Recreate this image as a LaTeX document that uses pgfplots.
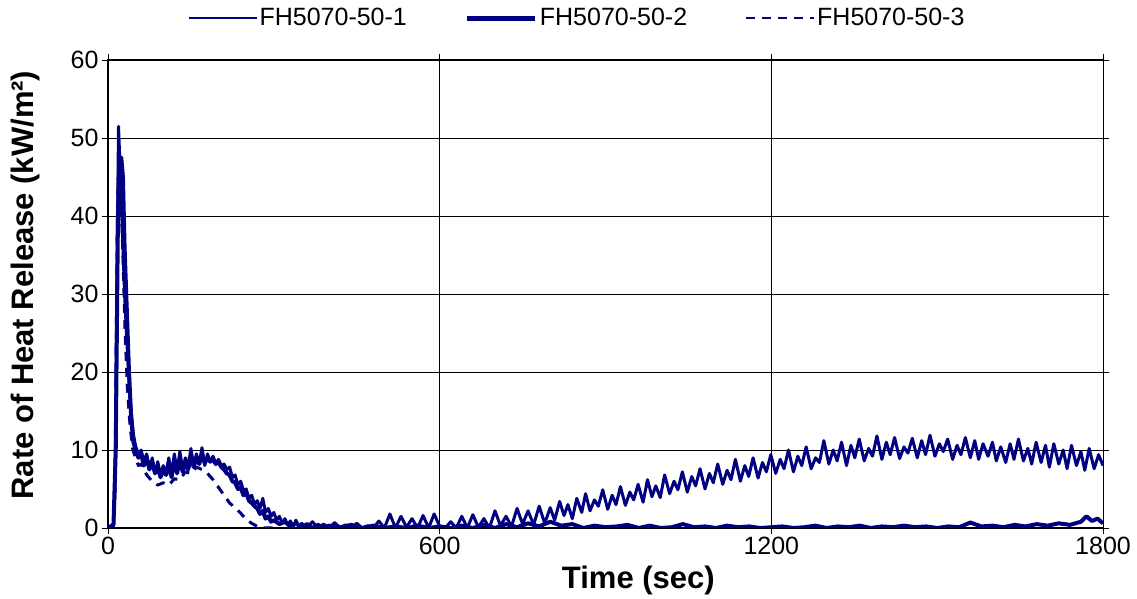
\documentclass[border=0pt]{standalone}
\usepackage{fontspec}
\setmainfont{Liberation Sans}
\usepackage{pgfplots}
\pgfplotsset{compat=1.18}
\definecolor{navy}{RGB}{0,0,128}

\begin{document}
\begin{tikzpicture}
\path[use as bounding box] (-108pt,-71pt) rectangle (1029pt,528pt);
\begin{axis}[
  at={(0,0)}, anchor=south west,
  scale only axis, width=995pt, height=468pt,
  xmin=0, xmax=1800, ymin=0, ymax=60,
  xtick={0,600,1200,1800}, ytick={0,10,...,60},
  grid=major, major grid style={black, line width=0.9pt},
  axis line style={black, line width=1pt},
  tick align=outside, major tick length=6pt,
  tick style={black, line width=0.9pt},
  tick label style={font=\fontsize{25}{30}\selectfont},
  /pgf/number format/assume math mode=true,
  /pgf/number format/1000 sep={},
  xlabel={Time (sec)},
  ylabel={Rate of Heat Release (kW/m²)},
  label style={font=\fontsize{31}{36}\selectfont\bfseries},
  xlabel style={at={(rel axis cs:0.533,-0.113)}, anchor=center},
  ylabel style={at={(rel axis cs:-0.0834,0.519)}, anchor=center},
  legend columns=3,
  legend style={draw=none, fill=none, at={(rel axis cs:0.4714,1.0897)}, anchor=center,
    font=\fontsize{25}{30}\selectfont,
    /tikz/every even column/.append style={column sep=56pt}},
  legend image code/.code={\draw[#1] (0pt,0pt) -- (68pt,0pt);},
  every axis plot/.append style={navy, line join=round},
]
% FH5070-50-1
\addplot[line width=3pt, forget plot] coordinates {
(0,0)(5,0)(10,0.3)(13,5)(16,30)(19,51.5)(22,46)(26,38)(30,30)(34,24)(38,19)(42,15)(46,12)(50,10.5)
(55,9.5)(60,10)(65,8.5)(70,9.5)(75,7.5)(80,9)(85,7)(90,8.5)(95,6.8)(100,8)(105,7)(110,9)(115,6.8)
(120,9.5)(125,7.2)(130,9.8)(135,7.5)(140,9)(145,7.8)(150,10.2)(155,8)(160,9.5)(165,8.2)(170,10.3)
(175,8)(180,9.5)(185,8.5)(190,9.2)(195,8.3)(200,8.8)(205,8)(210,8.2)(215,7.5)(220,7.8)(225,6.5)
(230,6.8)(235,5.5)(240,6)(245,4.8)(250,5)(255,3.8)(260,4.2)(265,3)(270,3.5)(275,2.5)(280,3.8)
(285,2)(290,2.5)(295,1.5)(300,2)(305,1)(310,1.5)(315,0.6)(320,1.2)(325,0.4)(330,0.9)(335,0.2)
(340,1)(345,0.2)(350,0.6)(360,0.1)(370,0.8)(380,0)(390,0.5)(400,0)(410,0.7)(420,0)(430,0.4)
(440,0)(450,0.6)(460,0)(470,0.3)(480,0)(490,0.9)(500,0)(510,1.8)(520,0)(530,1.5)(540,0.1)
(550,1.2)(560,0)(570,1.6)(580,0)(590,1.8)(600,0.2)(610,0)(620,0.8)(630,0)(640,1.5)(650,0)
(660,1.7)(670,0.1)(680,1.2)(690,0)(700,2.2)(710,0.3)(720,1.5)(730,0.2)(740,2.5)(750,0.5)
(760,2.2)(770,0.4)(780,2.8)(790,0.6)
(800,2.6)(808,1.0)(817,3.4)(825,1.6)(832,3.0)(840,1.2)(848,3.8)(857,2.0)(864,4.4)(872,2.2)
(880,3.6)(887,2.8)(895,4.9)(904,2.4)(912,4.2)(919,3.0)(927,5.3)(936,2.9)(944,4.6)(951,3.6)
(959,5.6)(968,3.3)(976,6.2)(984,4.0)(991,5.4)(999,3.9)(1007,6.8)(1016,4.4)(1024,6.0)(1031,4.9)
(1039,7.2)(1048,4.6)(1056,6.6)(1063,5.4)(1071,7.6)(1080,5.0)(1088,7.0)(1095,5.8)(1103,8.2)
(1112,5.6)(1120,7.4)(1127,6.2)(1135,8.8)(1144,6.0)(1152,8.0)(1159,6.6)(1167,9.0)(1176,6.4)
(1184,8.4)(1191,7.2)(1199,9.4)(1208,7.0)(1216,8.8)(1223,7.6)(1231,10.0)(1240,7.2)(1248,9.2)
(1255,8.0)(1263,10.4)(1272,7.6)(1280,9.0)(1287,8.4)(1295,11.2)(1304,8.2)(1312,10.0)(1319,8.6)
(1327,11.0)(1336,8.0)(1344,10.6)(1351,9.0)(1359,11.4)(1368,8.6)(1376,10.2)(1383,9.2)(1391,11.8)
(1400,8.8)(1408,11.0)(1415,9.4)(1423,11.6)(1432,8.9)(1440,10.4)(1447,9.6)(1455,11.5)(1464,9.0)
(1472,11.2)(1479,9.4)(1487,11.9)(1496,9.2)(1504,10.8)(1511,9.8)(1519,11.4)(1528,8.8)(1536,10.6)
(1543,9.4)(1551,11.6)(1560,9.0)(1568,11.2)(1575,8.8)(1583,10.8)(1592,9.2)(1600,11.0)(1607,8.6)
(1615,10.4)(1624,8.4)(1632,10.8)(1639,8.8)(1647,11.4)(1656,8.6)(1664,10.2)(1671,8.2)(1679,11.0)
(1688,8.4)(1696,10.6)(1703,7.8)(1711,10.8)(1720,8.2)(1728,10.0)(1735,7.6)(1743,10.6)(1752,8.0)
(1760,9.8)(1767,7.4)(1775,10.2)(1784,7.6)(1792,9.4)(1800,8.0)
};
% FH5070-50-2
\addplot[line width=4pt, forget plot] coordinates {
(0,0)(5,0.2)(10,0.5)(14,10)(18,40)(21,47)(24,47.5)(27,45)(30,36)(34,28)(38,20)(42,14)(46,11)(50,10)
(55,9)(60,9.5)(65,8)(70,9)(75,7.5)(80,8.5)(85,7)(90,7.8)(95,6.5)(100,7.5)(105,6.8)(110,8.2)
(115,6.5)(120,8.8)(125,7)(130,9)(135,7.2)(140,8.5)(145,7.5)(150,9.2)(155,7.8)(160,9)(165,8.2)
(170,9.5)(175,8.3)(180,9)(185,8.5)(190,8.8)(195,8.2)(200,8.5)(205,7.8)(210,7.5)(215,7)(220,6.8)
(225,6)(230,5.8)(235,5)(240,5.2)(245,4.2)(250,4.5)(255,3.5)(260,3.2)(265,2.8)(270,2.5)(275,1.8)
(280,2.2)(285,1.2)(290,1.5)(295,0.8)(300,1)(310,0.5)(320,0.8)(330,0.2)(340,0.6)(350,0.1)
(360,0.5)(370,0)(380,0.4)(390,0)(400,0.3)(420,0.1)(440,0.4)(460,0)(480,0.3)(500,0)(520,0.2)
(540,0)(560,0.3)(580,0)(600,0.2)(620,0)(640,0.3)(660,0)(680,0.4)(700,0)(720,0.5)(740,0.1)
(760,0.6)(780,0.2)(800,0.8)(820,0.3)(840,0.5)(860,0)(880,0.3)(900,0.1)(920,0.2)(940,0.4)
(960,0)(980,0.3)(1000,0)(1020,0.1)(1040,0.5)(1060,0.1)(1080,0.2)(1100,0)(1120,0.3)(1140,0.1)
(1160,0.2)(1180,0)(1200,0.1)(1220,0.2)(1240,0)(1260,0.1)(1280,0.3)(1300,0)(1320,0.2)(1340,0.1)
(1360,0.3)(1380,0)(1400,0.2)(1420,0.1)(1440,0.3)(1460,0.1)(1480,0.2)(1500,0)(1520,0.2)
(1540,0.1)(1560,0.7)(1580,0.2)(1600,0.3)(1620,0.1)(1640,0.4)(1660,0.2)(1680,0.5)(1700,0.3)
(1720,0.6)(1740,0.4)(1760,0.8)(1770,1.5)(1780,0.9)(1790,1.2)(1800,0.6)
};
% FH5070-50-3
\addplot[line width=3pt, dash pattern=on 9pt off 7pt, forget plot] coordinates {
(0,0)(10,0.3)(13,8)(17,40)(20,49)(23,44)(27,35)(31,25)(35,18)(40,13)(45,10)(50,9)(55,8)
(60,8.2)(70,6.8)(80,6)(90,5.5)(100,5.8)(110,5.5)(120,6.3)(130,6.2)(140,7.2)(150,7)(160,7.8)
(170,7.5)(180,7)(190,6.2)(200,5.2)(210,4.2)(220,3.2)(230,2.6)(240,1.9)(250,1.1)(260,0.6)
(270,0.2)(280,0)(300,0)
};
\addlegendimage{navy, line width=2pt}
\addlegendentry{FH5070-50-1}
\addlegendimage{navy, line width=5pt}
\addlegendentry{FH5070-50-2}
\addlegendimage{navy, line width=2pt, dash pattern=on 9pt off 7pt}
\addlegendentry{FH5070-50-3}
\end{axis}
\end{tikzpicture}
\end{document}
